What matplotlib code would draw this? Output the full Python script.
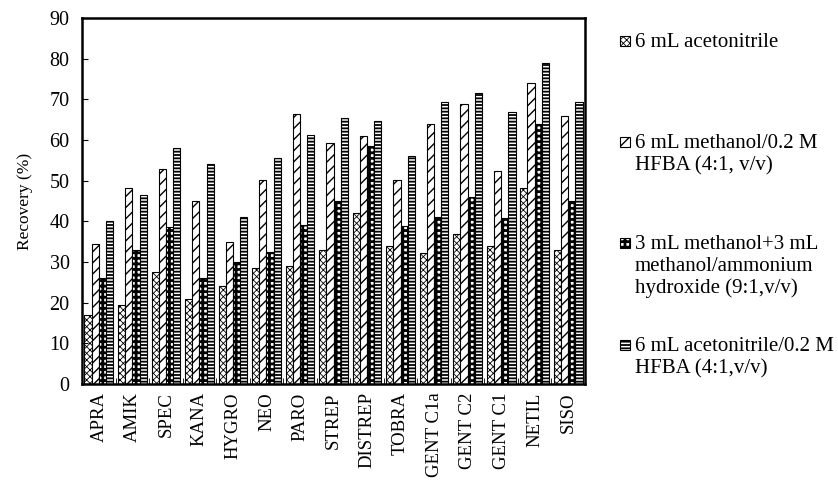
import numpy as np
import matplotlib
matplotlib.use("Agg")
import matplotlib.pyplot as plt
from matplotlib.patches import Rectangle

plt.rcParams['font.family'] = ['Liberation Serif', 'DejaVu Serif']

drugs = ['APRA', 'AMIK', 'SPEC', 'KANA', 'HYGRO', 'NEO', 'PARO', 'STREP',
         'DISTREP', 'TOBRA', 'GENT C1a', 'GENT C2', 'GENT C1', 'NETIL', 'SISO']

acn = [17, 19.5, 27.5, 21, 24, 28.5, 29, 33, 42, 34, 32.3, 37, 34, 48.3, 33]
meoh_hfba = [34.5, 48.3, 53, 45, 35, 50.3, 66.5, 59.3, 61, 50.3, 64, 69, 52.5, 74, 66]
meoh_nh4 = [26, 33, 38.5, 26, 30, 32.5, 39, 45, 58.5, 38.8, 41, 46, 40.8, 64, 45]
acn_hfba = [40, 46.5, 58, 54, 41, 55.5, 61.3, 65.5, 64.8, 56, 69.3, 71.5, 67, 79, 69.3]

labels = ['6 mL acetonitrile',
          '6 mL methanol/0.2 M\nHFBA (4:1, v/v)',
          '3 mL methanol+3 mL\nmethanol/ammonium\nhydroxide (9:1,v/v)',
          '6 mL acetonitrile/0.2 M\nHFBA (4:1,v/v)']

series = [acn, meoh_hfba, meoh_nh4, acn_hfba]
hatches = ['xxxxx', '///', '+++', '-----']
hlw = [0.6, 1.0, 2.0, 1.3]

fig = plt.figure(figsize=(8.38, 4.91), dpi=100)
ax = fig.add_axes([0.098, 0.218, 0.600, 0.745])

x = np.arange(len(drugs))
w = 0.215
for i, vals in enumerate(series):
    plt.rcParams['hatch.linewidth'] = hlw[i]
    ax.bar(x + (i - 1.5) * w, vals, w, color='white', edgecolor='black',
           hatch=hatches[i], linewidth=0.8)

ax.set_xlim(-0.5, len(drugs) - 0.5)
ax.set_ylim(0, 90)
ax.set_yticks(range(0, 91, 10))
ax.set_xticks(x)
ax.set_xticklabels(drugs, rotation=90, fontsize=13.5)
ax.set_xticks(np.arange(0.5, len(drugs) - 1, 1), minor=True)
ax.tick_params(axis='x', which='major', length=0, pad=6)
ax.tick_params(axis='x', which='minor', direction='in', length=4)
ax.tick_params(axis='y', direction='in', length=4, labelsize=14.5, pad=9)
ax.set_ylabel('Recovery (%)', fontsize=12.5, labelpad=12)
for s in ax.spines.values():
    s.set_linewidth(1.8)

# legend drawn by hand to match the spacing of the original
ypos = [41, 142, 243, 345]  # first line centre, pixels from top
for i in range(4):
    yc = 1 - ypos[i] / 491
    plt.rcParams['hatch.linewidth'] = hlw[i]
    fig.patches.append(Rectangle((620 / 838, yc - 0.0095), 10 / 838, 0.019,
                                 transform=fig.transFigure, facecolor='white',
                                 edgecolor='black', hatch=hatches[i], linewidth=0.8))
    fig.text(635 / 838, yc + 8 / 491, labels[i], fontsize=15, va='top',
             ha='left', linespacing=1.2)

fig.savefig('out.png', dpi=100)
